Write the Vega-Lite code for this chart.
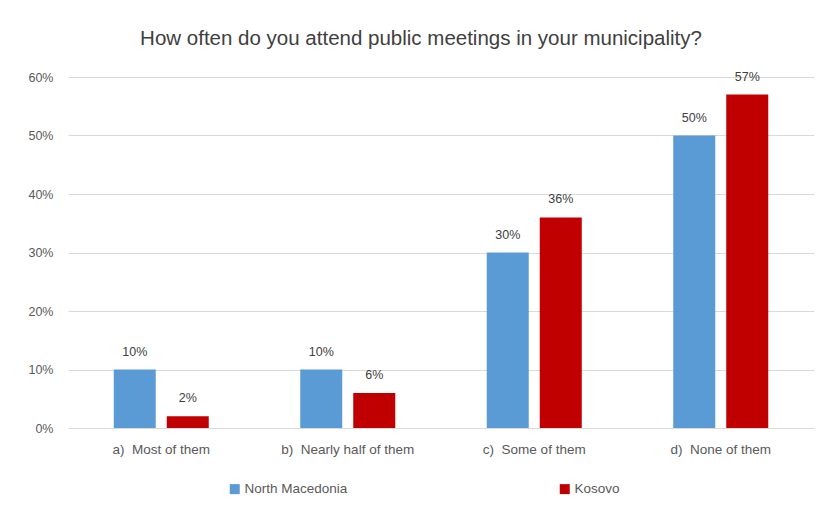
{
  "$schema": "https://vega.github.io/schema/vega-lite/v6.json",
  "width": 746,
  "height": 351,
  "autosize": {"type": "none"},
  "padding": {"left": 68, "top": 77, "right": 7, "bottom": 80},
  "background": "white",
  "title": {
    "text": "How often do you attend public meetings in your municipality?",
    "font": "Liberation Sans",
    "fontSize": 20.5,
    "fontWeight": "normal",
    "color": "#404040",
    "offset": 21,
    "dx": -20
  },
  "data": {
    "values": [
      {"answer": "a)\u00a0\u00a0Most of them", "country": "North Macedonia", "value": 0.10},
      {"answer": "a)\u00a0\u00a0Most of them", "country": "Kosovo", "value": 0.02},
      {"answer": "b)\u00a0\u00a0Nearly half of them", "country": "North Macedonia", "value": 0.10},
      {"answer": "b)\u00a0\u00a0Nearly half of them", "country": "Kosovo", "value": 0.06},
      {"answer": "c)\u00a0\u00a0Some of them", "country": "North Macedonia", "value": 0.30},
      {"answer": "c)\u00a0\u00a0Some of them", "country": "Kosovo", "value": 0.36},
      {"answer": "d)\u00a0\u00a0None of them", "country": "North Macedonia", "value": 0.50},
      {"answer": "d)\u00a0\u00a0None of them", "country": "Kosovo", "value": 0.57}
    ]
  },
  "encoding": {
    "x": {
      "field": "answer",
      "type": "nominal",
      "sort": null,
      "scale": {"paddingInner": 0, "paddingOuter": 0},
      "axis": {
        "title": null,
        "labelAngle": 0,
        "domain": false,
        "ticks": false,
        "labelPadding": 14,
        "labelFont": "Liberation Sans",
        "labelFontSize": 13.5,
        "labelColor": "#595959"
      }
    },
    "xOffset": {
      "field": "country",
      "type": "nominal",
      "sort": ["North Macedonia", "Kosovo"],
      "scale": {"paddingInner": 0.2075, "paddingOuter": 0.863}
    },
    "y": {
      "field": "value",
      "type": "quantitative",
      "scale": {"domain": [0, 0.6]},
      "axis": {
        "title": null,
        "format": ".0%",
        "values": [0, 0.1, 0.2, 0.3, 0.4, 0.5, 0.6],
        "domain": false,
        "ticks": false,
        "labelPadding": 15,
        "labelFont": "Liberation Sans",
        "labelFontSize": 12.5,
        "labelColor": "#595959",
        "gridColor": "#d9d9d9",
        "gridWidth": 1
      }
    },
    "color": {
      "field": "country",
      "type": "nominal",
      "sort": ["North Macedonia", "Kosovo"],
      "scale": {"domain": ["North Macedonia", "Kosovo"], "range": ["#5B9BD5", "#C00000"]},
      "legend": {
        "title": null,
        "orient": "none",
        "legendX": 160,
        "legendY": 405,
        "direction": "horizontal",
        "symbolType": "square",
        "symbolSize": 100,
        "symbolStrokeWidth": 0,
        "labelFont": "Liberation Sans",
        "labelFontSize": 13.5,
        "labelColor": "#595959",
        "columnPadding": 210,
        "labelOffset": 3
      }
    }
  },
  "layer": [
    {"mark": {"type": "bar"}},
    {
      "mark": {"type": "text", "dy": -18, "font": "Liberation Sans", "fontSize": 12.5, "color": "#404040"},
      "encoding": {"text": {"field": "value", "type": "quantitative", "format": ".0%"}, "color": {"value": "#404040"}}
    }
  ],
  "config": {"view": {"stroke": null}}
}
